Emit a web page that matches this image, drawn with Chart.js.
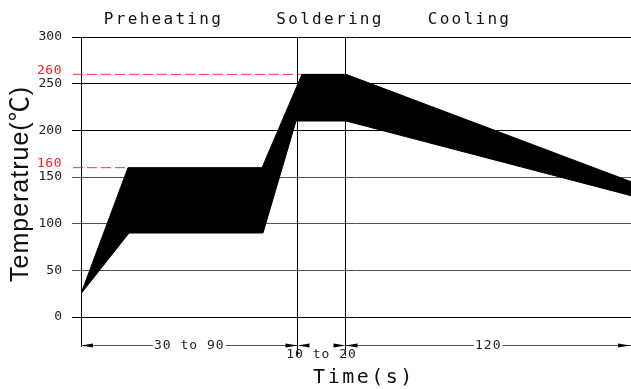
<!DOCTYPE html>
<html>
<head>
<meta charset="utf-8">
<script src="https://cdn.jsdelivr.net/npm/chart.js@4.4.1/dist/chart.umd.min.js"></script>
<style>
html, body { margin: 0; padding: 0; background: #fff; }
#caja { width: 631px; height: 389px; }
</style>
</head>
<body>
<div id="caja"><canvas id="grafica"></canvas></div>
<script>
// time axis of the drawing is not to scale, units are arbitrary
const superiorX = [0, 47, 181, 221, 265, 550];
const superiorT = [25, 160, 160, 260, 260, 145];
const inferiorX = [0, 48, 182, 215, 265, 550];
const inferiorT = [25, 90, 90, 210, 210, 130];

const limites = [260, 160];
const limiteFinX = [221, 47];

const fases = ["Preheating", "Soldering", "Cooling"];
const finFase = [216.5, 264.5, 550];
const tiempos = ["30 to 90", "10 to 20", "120"];

const yTicks = [0, 50, 100, 150, 200, 250, 300];

const MONO = "'DejaVu Sans Mono', 'Liberation Mono', monospace";
const faseLabelX = [81.5, 248, 387.5];

function puntos(xs, ys) {
    return xs.map((x, i) => ({ x: x, y: ys[i] }));
}

const datasets = [
    {
        data: puntos(superiorX, superiorT),
        borderColor: "#000",
        backgroundColor: "#000",
        borderWidth: 1,
        fill: "+1",
        pointRadius: 0
    },
    {
        data: puntos(inferiorX, inferiorT),
        borderColor: "#000",
        borderWidth: 1,
        fill: false,
        pointRadius: 0
    }
];

finFase.slice(0, 2).forEach(b => {
    datasets.push({
        data: [{ x: b, y: 300 }, { x: b, y: -41 }],
        borderColor: "#000",
        borderWidth: 1,
        pointRadius: 0,
        fill: false,
        clip: false
    });
});

limites.forEach((v, i) => {
    datasets.push({
        data: [{ x: -8, y: v }, { x: limiteFinX[i], y: v }],
        borderColor: "#ff3030",
        borderWidth: 1,
        borderDash: [10, 4],
        pointRadius: 0,
        fill: false,
        clip: false
    });
});

function flecha(ctx, punta, y, dir) {
    ctx.beginPath();
    ctx.moveTo(punta, y);
    ctx.lineTo(punta - dir * 12, y - 2);
    ctx.lineTo(punta - dir * 12, y + 2);
    ctx.closePath();
    ctx.fill();
}

const rotulos = {
    id: "rotulos",
    afterDraw(chart) {
        const ctx = chart.ctx;
        const xs = chart.scales.x;
        const ys = chart.scales.y;
        const area = chart.chartArea;

        ctx.save();
        ctx.fillStyle = "#111";
        ctx.textAlign = "center";
        ctx.textBaseline = "middle";

        // phase names on top
        ctx.font = "16px " + MONO;
        ctx.letterSpacing = "2.3px";
        fases.forEach((f, i) => {
            ctx.fillText(f, xs.getPixelForValue(faseLabelX[i]) + 1, 20);
        });

        // red limit labels
        ctx.letterSpacing = "0.5px";
        ctx.font = "13px " + MONO;
        ctx.fillStyle = "#ff2020";
        ctx.textAlign = "right";
        limites.forEach(v => {
            ctx.fillText(String(v), 62, ys.getPixelForValue(v) - 4);
        });

        // axis extension below zero
        ctx.strokeStyle = "#000";
        ctx.lineWidth = 1;
        ctx.beginPath();
        ctx.moveTo(area.left + 0.5, area.bottom);
        ctx.lineTo(area.left + 0.5, area.bottom + 30);
        ctx.stroke();

        // dimension line
        const yd = area.bottom + 28.5;
        const bordes = [0].concat(finFase).map(v => xs.getPixelForValue(v));
        ctx.strokeStyle = "#555";
        ctx.beginPath();
        ctx.moveTo(bordes[0], yd);
        ctx.lineTo(bordes[1], yd);
        ctx.moveTo(bordes[2], yd);
        ctx.lineTo(bordes[3], yd);
        ctx.stroke();

        ctx.fillStyle = "#000";
        flecha(ctx, bordes[0], yd, -1);
        flecha(ctx, bordes[1], yd, 1);
        flecha(ctx, bordes[1], yd, -1);
        flecha(ctx, bordes[2], yd, 1);
        flecha(ctx, bordes[2], yd, -1);
        flecha(ctx, bordes[3] - 1, yd, 1);

        ctx.font = "13px " + MONO;
        ctx.letterSpacing = "1px";
        ctx.textAlign = "center";
        tiempos.forEach((t, i) => {
            const cx = (bordes[i] + bordes[i + 1]) / 2;
            if (i === 1) {
                ctx.fillStyle = "#222";
                ctx.fillText(t, cx, yd + 9);
            } else {
                const w = ctx.measureText(t).width + 2;
                ctx.fillStyle = "#fff";
                ctx.fillRect(cx - w / 2, yd - 6, w, 12);
                ctx.fillStyle = "#222";
                ctx.fillText(t, cx, yd);
            }
        });

        // axis titles
        ctx.fillStyle = "#111";
        ctx.font = "20px " + MONO;
        ctx.letterSpacing = "2.5px";
        ctx.fillText("Time(s)", 364, 378);

        ctx.letterSpacing = "1px";
        ctx.font = "25px 'Liberation Sans', 'Noto Sans CJK SC', sans-serif";
        ctx.translate(21, 184);
        ctx.rotate(-Math.PI / 2);
        ctx.fillText("Temperatrue(℃)", 0, 0);

        ctx.restore();
    }
};

new Chart(document.getElementById("grafica"), {
    type: "line",
    data: { datasets: datasets },
    options: {
        responsive: true,
        maintainAspectRatio: false,
        animation: false,
        layout: { padding: { top: 37, bottom: 72, left: 0, right: 0 } },
        plugins: {
            legend: { display: false },
            tooltip: { enabled: false }
        },
        scales: {
            x: { type: "linear", display: false, min: 0, max: 550 },
            y: {
                min: 0,
                max: 300,
                afterFit(s) { s.width = 81; },
                afterBuildTicks(s) { s.ticks = yTicks.map(v => ({ value: v })); },
                border: { color: "#000" },
                grid: {
                    color: c => [50, 100, 150].includes(c.tick.value) ? "#555" : "#000",
                    tickLength: 9
                },
                ticks: {
                    padding: 10,
                    color: "#222",
                    font: { family: MONO, size: 13 }
                }
            }
        }
    },
    plugins: [rotulos]
});
</script>
</body>
</html>
